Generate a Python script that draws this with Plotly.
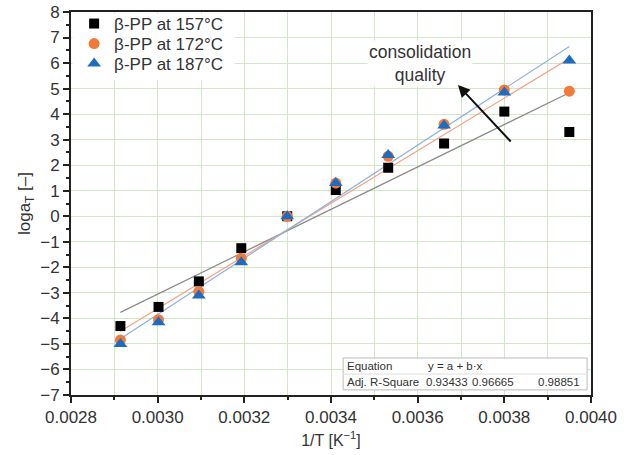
import numpy as np
import plotly.graph_objects as go

# ---- data ----
inv_T = [0.002914, 0.003002, 0.003095, 0.003193, 0.003299,
         0.003411, 0.003532, 0.003661, 0.003800, 0.003950]
log_aT_157 = [-4.3, -3.55, -2.55, -1.25, 0.0, 1.03, 1.9, 2.85, 4.1, 3.3]
log_aT_172 = [-4.85, -4.05, -2.95, -1.65, 0.0, 1.3, 2.35, 3.6, 4.95, 4.9]
log_aT_187 = [-5.0, -4.15, -3.1, -1.8, 0.0, 1.3, 2.4, 3.55, 4.85, 6.1]
series_names = ["β-PP at 157°C", "β-PP at 172°C", "β-PP at 187°C"]
adj_r2 = ["0.93433", "0.96665", "0.98851"]

series = [log_aT_157, log_aT_172, log_aT_187]
marker_colors = ["#000000", "#F07A3A", "#1F6BBF"]
marker_symbols = ["square", "circle", "triangle-up"]
marker_sizes = [10, 11, 12]
fit_colors = ["#8a8a8a", "#f2a184", "#8fb0dc"]
legend_ids = ["legend", "legend2", "legend3"]
legend_y = [0.9687, 0.9164, 0.8642]

FONT = "Liberation Sans, Arial, Helvetica, sans-serif"
fig = go.Figure()

x = np.array(inv_T)
# fit lines (linear regression of each series)
for ys, fc in zip(series, fit_colors):
    b, a = np.polyfit(x, np.array(ys), 1)
    xs = np.array([x.min(), x.max()])
    fig.add_trace(go.Scatter(x=xs, y=a + b * xs, mode="lines",
                             line=dict(color=fc, width=1.2),
                             showlegend=False, hoverinfo="skip"))

for ys, name, c, s, sz, lg in zip(series, series_names, marker_colors, marker_symbols,
                                  marker_sizes, legend_ids):
    fig.add_trace(go.Scatter(x=inv_T, y=ys, mode="markers", name=name, legend=lg,
                             marker=dict(color=c, symbol=s, size=sz, line=dict(width=0))))

grid_c = "#d3e6c6"
fig.update_xaxes(range=[0.0028, 0.0040], dtick=0.0002, tick0=0.0028, tickformat=".4f",
                 showgrid=True, gridcolor=grid_c, gridwidth=1, automargin=False,
                 minor=dict(dtick=0.0001, showgrid=True, gridcolor=grid_c, ticks="outside",
                            ticklen=3, tickcolor="#222"),
                 ticks="outside", ticklen=6, tickcolor="#222", tickwidth=1.5,
                 showline=True, linecolor="#222", linewidth=2, mirror=True,
                 zeroline=False,
                 tickfont=dict(size=17, color="#333", family=FONT),
                 title=dict(text="1/T [K<sup>−1</sup>]", font=dict(size=16, color="#333", family=FONT),
                            standoff=8))
fig.update_yaxes(range=[-7, 8], dtick=1, tick0=0,
                 showgrid=True, gridcolor=grid_c, gridwidth=1, automargin=False,
                 minor=dict(dtick=0.5, ticks="outside", ticklen=3, tickcolor="#222", showgrid=False),
                 ticks="outside", ticklen=6, tickcolor="#222", tickwidth=1.5,
                 showline=True, linecolor="#222", linewidth=2, mirror=True,
                 zeroline=False,
                 tickfont=dict(size=17, color="#333", family=FONT),
                 title=dict(text="loga<sub>T</sub> [–]", font=dict(size=17, color="#333", family=FONT),
                            standoff=5))

# white area behind the legend
fig.add_shape(type="rect", xref="paper", yref="paper", x0=0.003, x1=0.315, y0=0.822, y1=0.996,
              fillcolor="white", line=dict(width=0), layer="above")

# annotation text and arrow
fig.add_annotation(x=0.003605, y=6.0, text="consolidation<br>quality", showarrow=False,
                   font=dict(size=17.5, color="#333", family=FONT), bgcolor="white",
                   xanchor="center", yanchor="middle")
fig.add_annotation(x=0.003693, y=5.14, ax=0.003818, ay=2.87, xref="x", yref="y",
                   axref="x", ayref="y", text="", showarrow=True,
                   arrowhead=2, arrowsize=1.2, arrowwidth=2, arrowcolor="#111")

# equation table box
bx0, bx1, by0, by1, bym = 0.003428, 0.003991, -6.80, -5.55, -6.18
fig.add_shape(type="rect", x0=bx0, x1=bx1, y0=by0, y1=by1, xref="x", yref="y",
              line=dict(color="#bbbbbb", width=1), fillcolor="white", layer="above")
fig.add_shape(type="line", x0=bx0, x1=bx1, y0=bym, y1=bym, xref="x", yref="y",
              line=dict(color="#dddddd", width=1), layer="above")
tf = dict(size=11.5, color="#333", family=FONT)
fig.add_annotation(x=0.003433, y=(by1 + bym) / 2, text="Equation", showarrow=False,
                   xanchor="left", yanchor="middle", font=tf)
fig.add_annotation(x=0.003619, y=(by1 + bym) / 2, text="y = a + b·x", showarrow=False,
                   xanchor="left", yanchor="middle", font=tf)
fig.add_annotation(x=0.003433, y=(bym + by0) / 2, text="Adj. R-Square", showarrow=False,
                   xanchor="left", yanchor="middle", font=tf)
for xv, r in zip([0.003615, 0.003721, 0.003873], adj_r2):
    fig.add_annotation(x=xv, y=(bym + by0) / 2, text=r, showarrow=False,
                       xanchor="left", yanchor="middle", font=tf)

legend_common = dict(x=0.006, xanchor="left", yanchor="middle", bgcolor="rgba(0,0,0,0)",
                     borderwidth=0, font=dict(size=17, color="#333", family=FONT),
                     itemwidth=30, tracegroupgap=0)
layout_legends = {lg: dict(legend_common, y=ly) for lg, ly in zip(legend_ids, legend_y)}

fig.update_layout(width=630, height=455,
                  margin=dict(l=71, r=39, t=12, b=60, autoexpand=False),
                  plot_bgcolor="white", paper_bgcolor="white",
                  font=dict(family=FONT, color="#333"),
                  **layout_legends)

fig.write_html("out.html")
